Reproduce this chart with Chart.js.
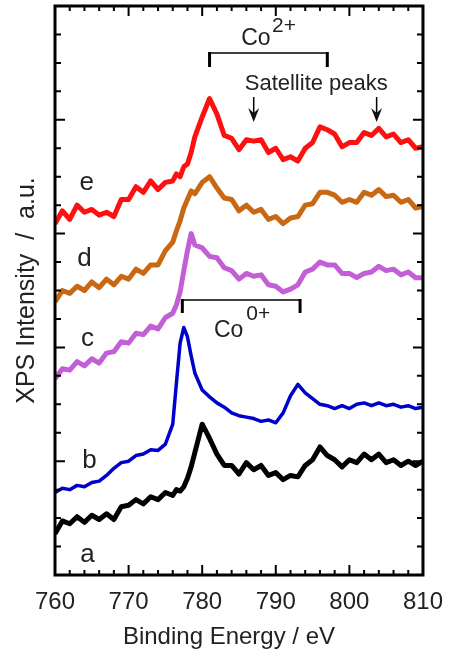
<!DOCTYPE html>
<html>
<head>
<meta charset="utf-8">
<script src="https://cdn.jsdelivr.net/npm/chart.js@4.4.1/dist/chart.umd.min.js"></script>
<style>
  html, body { margin: 0; padding: 0; background: #fff; }
</style>
</head>
<body>
<canvas id="xps" width="456" height="660"></canvas>
<script>
// binding energy (eV), shared by all spectra
const energy = [760,761,762,763,764,765,766,767,768,769,770,771,772,773,774,775,776,776.5,777,777.5,778,778.5,
  779,780,781,782,783,784,785,786,787,788,789,790,791,792,793,794,795,796,797,798,799,800,801,802,803,804,805,806,807,808,809,810];

// intensities (arbitrary units, offset per trace)
const curveA = [1.45,1.9,1.8,2.05,1.85,2.1,1.95,2.15,1.95,2.4,2.45,2.65,2.5,2.75,2.65,2.9,2.8, 3.0,2.95,3.1,3.4,3.8,
  4.3,5.3,4.8,4.25,3.85,3.85,3.55,3.95,3.7,3.85,3.5,3.6,3.35,3.5,3.45,3.85,4.05,4.5,4.2,4.05,3.8,4.05,3.95,4.25,4.05,4.25,3.95,4.05,3.85,4.0,3.85,4.0];
const curveB = [2.9,3.05,3.0,3.15,3.1,3.25,3.3,3.5,3.75,3.95,4.0,4.2,4.25,4.4,4.38,4.6,5.3, 6.75,8.15,8.7,8.37,7.7,
  7.1,6.5,6.26,6.05,5.9,5.7,5.6,5.55,5.5,5.4,5.45,5.35,5.7,6.3,6.7,6.4,6.2,6.0,5.95,5.85,5.95,5.85,6.0,6.05,5.95,6.05,5.95,6.0,5.9,5.95,5.85,5.9];
const curveC = [6.9,7.25,7.2,7.5,7.35,7.6,7.45,7.8,7.85,8.2,8.15,8.5,8.45,8.75,8.65,9.05,9.2, 9.5,9.95,10.7,11.4,12.0,
  11.6,11.5,11.2,11.15,10.8,10.7,10.4,10.6,10.5,10.55,10.2,10.15,9.95,10.05,10.2,10.65,10.75,11.0,10.9,10.9,10.6,10.6,10.45,10.6,10.65,10.85,10.7,10.75,10.55,10.65,10.45,10.45];
const curveD = [9.6,10.0,9.9,10.15,10.0,10.3,10.1,10.4,10.2,10.5,10.4,10.75,10.6,10.9,10.9,11.4,11.7, 12.1,12.45,12.9,13.2,13.5,
  13.4,13.8,14.0,13.6,13.25,13.2,12.8,13.0,12.75,12.85,12.5,12.6,12.35,12.55,12.6,13.0,13.05,13.45,13.45,13.35,13.1,13.2,13.1,13.45,13.35,13.55,13.3,13.35,13.1,13.2,12.9,12.95];
const curveE = [12.35,12.8,12.5,13.0,12.75,12.85,12.65,12.75,12.6,13.2,13.2,13.65,13.45,13.85,13.55,13.8,13.85, 14.1,14.0,14.35,14.45,14.85,
  15.4,16.1,16.75,16.2,15.45,15.35,14.95,15.3,15.25,15.3,14.85,15.0,14.6,14.7,14.55,15.0,15.2,15.75,15.65,15.5,15.05,15.2,15.2,15.55,15.45,15.7,15.4,15.5,15.2,15.3,15.0,15.05];

const traceNames = ['a', 'b', 'c', 'd', 'e'];
const energyTicks = [760, 770, 780, 790, 800, 810];

const traces = [
  { name: traceNames[0], values: curveA, color: '#000000', width: 5 },
  { name: traceNames[1], values: curveB, color: '#0000cc', width: 3.5 },
  { name: traceNames[2], values: curveC, color: '#c25ed6', width: 5 },
  { name: traceNames[3], values: curveD, color: '#c96812', width: 5 },
  { name: traceNames[4], values: curveE, color: '#ff1010', width: 5 }
];

const FONT = 'Liberation Sans, Arial, sans-serif';

// frame, inward ticks and the text/bracket annotations
const decorPlugin = {
  id: 'decor',
  afterDatasetsDraw(chart) {
    const { ctx, chartArea: a, scales: { x, y } } = chart;
    ctx.save();
    ctx.strokeStyle = '#000';
    ctx.lineWidth = 2;
    ctx.beginPath();
    for (let e = 760; e <= 810; e += 2) {
      const px = x.getPixelForValue(e);
      const len = e % 10 === 0 ? 10 : 5;
      ctx.moveTo(px, a.bottom); ctx.lineTo(px, a.bottom - len);
      ctx.moveTo(px, a.top); ctx.lineTo(px, a.top + len);
    }
    for (let v = 0; v <= 20; v++) {
      const py = y.getPixelForValue(v);
      const len = v % 4 === 0 ? 10 : 6;
      ctx.moveTo(a.left, py); ctx.lineTo(a.left + len, py);
      ctx.moveTo(a.right, py); ctx.lineTo(a.right - len, py);
    }
    ctx.stroke();
    ctx.lineWidth = 3;
    ctx.strokeRect(a.left, a.top, a.right - a.left, a.bottom - a.top);

    // trace letters
    ctx.fillStyle = '#222';
    ctx.font = '26px ' + FONT;
    ctx.textAlign = 'center';
    ctx.textBaseline = 'middle';
    const letterPos = [[764.4, 0.7], [764.7, 4.0], [764.4, 8.3], [764.0, 11.1], [764.3, 13.8]];
    traceNames.forEach((n, i) => {
      ctx.fillText(n, x.getPixelForValue(letterPos[i][0]), y.getPixelForValue(letterPos[i][1]));
    });

    // brackets
    const bracket = (e1, e2, v, drop) => {
      const x1 = x.getPixelForValue(e1), x2 = x.getPixelForValue(e2);
      const py = y.getPixelForValue(v);
      ctx.lineWidth = 1.5;
      ctx.beginPath();
      ctx.moveTo(x1, py); ctx.lineTo(x2, py);
      ctx.stroke();
      ctx.lineWidth = 3;
      ctx.beginPath();
      ctx.moveTo(x1, py - 1); ctx.lineTo(x1, py + drop);
      ctx.moveTo(x2, py - 1); ctx.lineTo(x2, py + drop);
      ctx.stroke();
    };
    bracket(781, 797, 18.35, 14);
    bracket(777.3, 793.3, 9.67, 13);

    // Co labels with superscripts
    ctx.textAlign = 'left';
    ctx.textBaseline = 'alphabetic';
    ctx.font = '23px ' + FONT;
    ctx.fillText('Co', x.getPixelForValue(785.3), y.getPixelForValue(18.63));
    ctx.fillText('Co', x.getPixelForValue(781.6), y.getPixelForValue(8.37));
    ctx.font = '21px ' + FONT;
    ctx.fillText('2+', x.getPixelForValue(789.5), y.getPixelForValue(19.1));
    ctx.fillText('0+', x.getPixelForValue(786.0), y.getPixelForValue(8.96));

    ctx.textAlign = 'center';
    ctx.font = '22px ' + FONT;
    ctx.fillText('Satellite peaks', x.getPixelForValue(795.5), y.getPixelForValue(17.05));

    // arrows to satellite peaks
    [787, 803.7].forEach(e => {
      const px = x.getPixelForValue(e);
      const top = y.getPixelForValue(16.8), tip = y.getPixelForValue(15.92);
      ctx.lineWidth = 1.5;
      ctx.beginPath();
      ctx.moveTo(px, top); ctx.lineTo(px, tip - 8);
      ctx.stroke();
      ctx.fillStyle = '#111';
      ctx.beginPath();
      ctx.moveTo(px - 5.5, tip - 14);
      ctx.lineTo(px, tip - 9);
      ctx.lineTo(px + 5.5, tip - 14);
      ctx.lineTo(px, tip);
      ctx.closePath();
      ctx.fill();
    });
    ctx.restore();
  }
};

new Chart(document.getElementById('xps'), {
  type: 'line',
  data: {
    datasets: traces.map(t => ({
      label: t.name,
      data: energy.map((e, i) => ({ x: e, y: t.values[i] })),
      borderColor: t.color,
      borderWidth: t.width,
      borderJoinStyle: 'round',
      pointRadius: 0,
      tension: 0,
      fill: false
    }))
  },
  options: {
    responsive: false,
    animation: false,
    layout: { autoPadding: false, padding: { left: 0, right: 26, top: 6, bottom: 0 } },
    plugins: { legend: { display: false }, tooltip: { enabled: false } },
    scales: {
      x: {
        type: 'linear',
        min: 760,
        max: 810,
        afterFit(s) { s.height = 85; },
        afterBuildTicks(s) { s.ticks = energyTicks.map(v => ({ value: v })); },
        grid: { display: false, drawTicks: false },
        border: { display: false },
        ticks: { color: '#222', padding: 13, maxRotation: 0, font: { size: 24, family: FONT } },
        title: {
          display: true,
          text: 'Binding Energy / eV   ',
          color: '#222',
          padding: { top: 0, bottom: 8 },
          font: { size: 24, family: FONT }
        }
      },
      y: {
        type: 'linear',
        min: 0,
        max: 20,
        afterFit(s) { s.width = 55; },
        grid: { display: false, drawTicks: false },
        border: { display: false },
        ticks: { display: false },
        title: {
          display: true,
          text: 'XPS Intensity  /  a.u.',
          color: '#222',
          padding: { top: 12, bottom: 0 },
          font: { size: 25, family: FONT }
        }
      }
    }
  },
  plugins: [decorPlugin]
});
</script>
</body>
</html>
